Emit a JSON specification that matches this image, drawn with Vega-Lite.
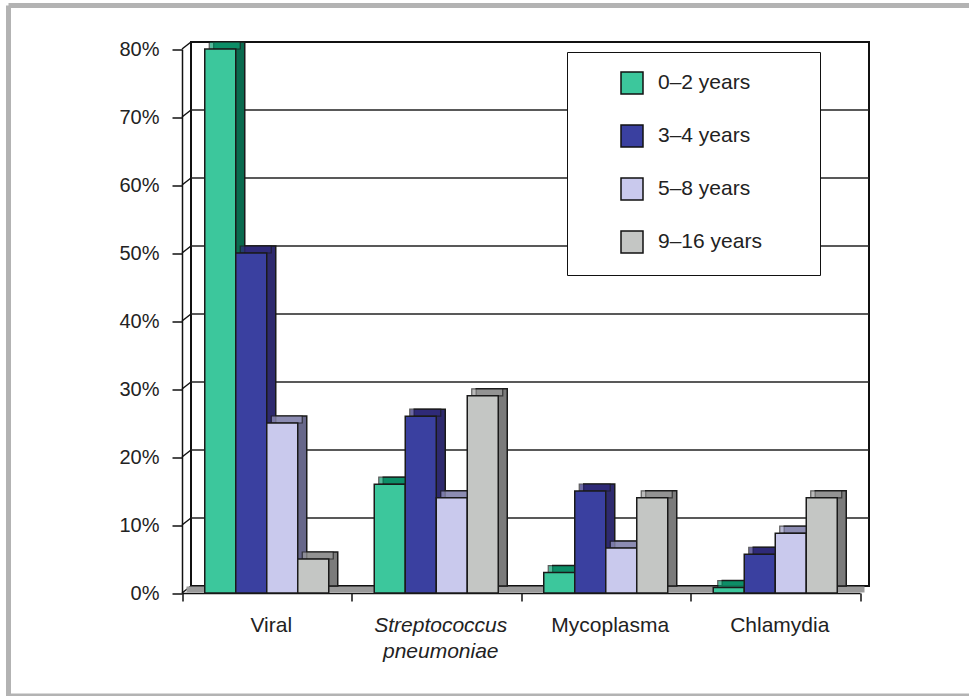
{
  "$schema": "https://vega.github.io/schema/vega-lite/v6.json",
  "autosize": {"type": "none"},
  "padding": {"left": 8.5, "top": 5.5, "right": 0, "bottom": 0},
  "width": 960.5,
  "height": 690.5,
  "background": "white",
  "config": {
    "view": {"stroke": "#b3b3b3", "strokeWidth": 5, "strokeDash": [960.5, 690.5, 1651, 0]},
    "font": "Liberation Sans"
  },
  "datasets": {
    "bars": [
      {"cause": "Viral", "age": "0–2 years", "pct": 0.80},
      {"cause": "Viral", "age": "3–4 years", "pct": 0.50},
      {"cause": "Viral", "age": "5–8 years", "pct": 0.25},
      {"cause": "Viral", "age": "9–16 years", "pct": 0.05},
      {"cause": "Streptococcus pneumoniae", "age": "0–2 years", "pct": 0.16},
      {"cause": "Streptococcus pneumoniae", "age": "3–4 years", "pct": 0.26},
      {"cause": "Streptococcus pneumoniae", "age": "5–8 years", "pct": 0.14},
      {"cause": "Streptococcus pneumoniae", "age": "9–16 years", "pct": 0.29},
      {"cause": "Mycoplasma", "age": "0–2 years", "pct": 0.03},
      {"cause": "Mycoplasma", "age": "3–4 years", "pct": 0.15},
      {"cause": "Mycoplasma", "age": "5–8 years", "pct": 0.066},
      {"cause": "Mycoplasma", "age": "9–16 years", "pct": 0.14},
      {"cause": "Chlamydia", "age": "0–2 years", "pct": 0.008},
      {"cause": "Chlamydia", "age": "3–4 years", "pct": 0.057},
      {"cause": "Chlamydia", "age": "5–8 years", "pct": 0.088},
      {"cause": "Chlamydia", "age": "9–16 years", "pct": 0.14}
    ],
    "grid": [{"v": 0.1}, {"v": 0.2}, {"v": 0.3}, {"v": 0.4}, {"v": 0.5}, {"v": 0.6}, {"v": 0.7}],
    "ticks": [{"v": 0}, {"v": 0.1}, {"v": 0.2}, {"v": 0.3}, {"v": 0.4}, {"v": 0.5}, {"v": 0.6}, {"v": 0.7}, {"v": 0.8}],
    "wall": [{"lo": 0, "hi": 0.8}]
  },
  "resolve": {"scale": {"x": "independent", "y": "independent", "xOffset": "independent", "fill": "independent"}},
  "layer": [
    {
      "data": {"name": "wall"},
      "mark": {"type": "rect", "fill": "white", "stroke": "#111111", "strokeWidth": 2, "xOffset": 9, "x2Offset": 9, "yOffset": -7, "y2Offset": -7},
      "encoding": {
        "x": {"datum": 0, "type": "quantitative", "scale": {"domain": [0, 1], "range": [173.5, 851.5]}, "axis": null},
        "x2": {"datum": 1},
        "y": {"field": "lo", "type": "quantitative", "scale": {"domain": [0, 0.8], "range": [587.5, 43.5], "nice": false}, "axis": null},
        "y2": {"field": "hi"}
      }
    },
    {
      "data": {"name": "grid"},
      "mark": {"type": "rule", "stroke": "#222222", "strokeWidth": 1.5, "xOffset": 9, "x2Offset": 9, "yOffset": -7},
      "encoding": {
        "x": {"datum": 0, "type": "quantitative", "scale": {"domain": [0, 1], "range": [173.5, 851.5]}, "axis": null},
        "x2": {"datum": 1},
        "y": {"field": "v", "type": "quantitative", "scale": {"domain": [0, 0.8], "range": [587.5, 43.5], "nice": false}, "axis": null}
      }
    },
    {
      "data": {"name": "ticks"},
      "mark": {"type": "rule", "stroke": "#111111", "strokeWidth": 1.5, "x2Offset": 9, "y2Offset": -7},
      "encoding": {
        "x": {"datum": 0, "type": "quantitative", "scale": {"domain": [0, 1], "range": [173.5, 851.5]}, "axis": null},
        "x2": {"datum": 0},
        "y": {"field": "v", "type": "quantitative", "scale": {"domain": [0, 0.8], "range": [587.5, 43.5], "nice": false}, "axis": null},
        "y2": {"field": "v"}
      }
    },
    {
      "data": {"name": "wall"},
      "mark": {"type": "rule", "stroke": "#9a9a9a", "strokeWidth": 6, "xOffset": 4.5, "x2Offset": 4.5, "yOffset": -3.5},
      "encoding": {
        "x": {"datum": 0, "type": "quantitative", "scale": {"domain": [0, 1], "range": [173.5, 851.5]}, "axis": null},
        "x2": {"datum": 1},
        "y": {"field": "lo", "type": "quantitative", "scale": {"domain": [0, 0.8], "range": [587.5, 43.5], "nice": false}, "axis": null}
      }
    },
    {
      "data": {"name": "bars"},
      "mark": {"type": "bar", "stroke": "#1a1a1a", "strokeWidth": 1.5, "yOffset": -7, "y2Offset": -7},
      "encoding": {
        "x": {"field": "cause", "type": "nominal", "scale": {"domain": ["Viral", "Streptococcus pneumoniae", "Mycoplasma", "Chlamydia"], "range": [173.5, 851.5], "paddingInner": 0, "paddingOuter": 0}, "axis": null},
        "xOffset": {"field": "age", "type": "nominal", "scale": {"domain": ["0–2 years", "3–4 years", "5–8 years", "9–16 years"], "range": [9, 178.5], "paddingInner": 0, "paddingOuter": 0.734}},
        "y": {"field": "pct", "type": "quantitative", "scale": {"domain": [0, 0.8], "range": [587.5, 43.5], "nice": false}, "axis": null},
        "fill": {"field": "age", "type": "nominal", "scale": {"domain": ["0–2 years", "3–4 years", "5–8 years", "9–16 years"], "range": ["#0a6a4e", "#2e2a6e", "#67678a", "#7b7b7b"]}, "legend": null}
      }
    },
    {
      "data": {"name": "bars"},
      "mark": {"type": "tick", "size": 31, "thickness": 7, "stroke": "#1a1a1a", "strokeWidth": 1.2, "yOffset": -3.5},
      "encoding": {
        "x": {"field": "cause", "type": "nominal", "scale": {"domain": ["Viral", "Streptococcus pneumoniae", "Mycoplasma", "Chlamydia"], "range": [173.5, 851.5], "paddingInner": 0, "paddingOuter": 0}, "axis": null},
        "xOffset": {"field": "age", "type": "nominal", "scale": {"domain": ["0–2 years", "3–4 years", "5–8 years", "9–16 years"], "range": [4.5, 174], "paddingInner": 0, "paddingOuter": 0.734}},
        "y": {"field": "pct", "type": "quantitative", "scale": {"domain": [0, 0.8], "range": [587.5, 43.5], "nice": false}, "axis": null},
        "fill": {"field": "age", "type": "nominal", "scale": {"domain": ["0–2 years", "3–4 years", "5–8 years", "9–16 years"], "range": ["#0d9e72", "#302a7d", "#9c9cc4", "#9e9e9e"]}, "legend": null}
      }
    },
    {
      "data": {"name": "bars"},
      "mark": {"type": "bar", "stroke": "#1a1a1a", "strokeWidth": 1.5},
      "encoding": {
        "x": {"field": "cause", "type": "nominal", "scale": {"domain": ["Viral", "Streptococcus pneumoniae", "Mycoplasma", "Chlamydia"], "range": [173.5, 851.5], "paddingInner": 0, "paddingOuter": 0},
          "axis": {"orient": "bottom", "offset": -103, "title": null, "domainColor": "#111111", "domainWidth": 1.5, "tickColor": "#111111", "tickWidth": 1.5, "tickSize": 8, "tickBand": "extent", "labelAngle": 0, "labelFont": "Liberation Sans", "labelFontSize": 21, "labelColor": "#222222", "labelPadding": 13, "labelOffset": 4, "labelLineHeight": 26, "labelLimit": 300,
            "labelExpr": "datum.value == 'Streptococcus pneumoniae' ? ['Streptococcus', 'pneumoniae'] : datum.label",
            "labelFontStyle": {"condition": {"test": "datum.value == 'Streptococcus pneumoniae'", "value": "italic"}, "value": "normal"}}},
        "xOffset": {"field": "age", "type": "nominal", "scale": {"domain": ["0–2 years", "3–4 years", "5–8 years", "9–16 years"], "paddingInner": 0, "paddingOuter": 0.734}},
        "y": {"field": "pct", "type": "quantitative", "scale": {"domain": [0, 0.8], "range": [587.5, 43.5], "nice": false},
          "axis": {"orient": "left", "offset": -173.5, "title": null, "values": [0, 0.1, 0.2, 0.3, 0.4, 0.5, 0.6, 0.7, 0.8], "format": ".0%", "grid": false, "domainColor": "#111111", "domainWidth": 1.5, "tickColor": "#111111", "tickWidth": 1.5, "tickSize": 10, "labelPadding": 13, "labelFont": "Liberation Sans", "labelFontSize": 20, "labelColor": "#222222"}},
        "fill": {"field": "age", "type": "nominal", "scale": {"domain": ["0–2 years", "3–4 years", "5–8 years", "9–16 years"], "range": ["#3cc79c", "#3a40a0", "#c9c9ed", "#c4c6c4"]},
          "legend": {"orient": "none", "legendX": 558.5, "legendY": 46.5, "title": "Age", "titleOrient": "right", "titleOpacity": 0, "titleFontSize": 19.5, "titlePadding": 2, "symbolType": "square", "symbolSize": 484, "symbolStrokeColor": "#111111", "symbolStrokeWidth": 1.5, "symbolOffset": 34, "labelOffset": 14, "rowPadding": 25, "padding": 19, "strokeColor": "#111111", "fillColor": "white", "labelFont": "Liberation Sans", "labelFontSize": 21, "labelColor": "#222222", "labelLimit": 300}}
      }
    }
  ]
}
